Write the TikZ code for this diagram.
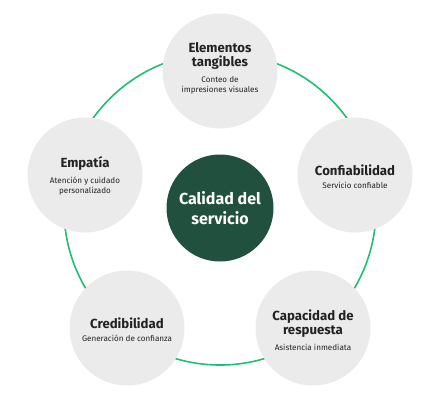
\documentclass[tikz,border=0pt]{standalone}
\usepackage{fontspec}
\setmainfont{Fira Sans}
\usepackage{xcolor}
\usepackage{tikz}
\usetikzlibrary{positioning}
\definecolor{hubgreen}{HTML}{22503E}
\definecolor{ringgreen}{HTML}{1DBF73}
\definecolor{petalgray}{HTML}{EBEBEB}
\definecolor{ink}{HTML}{222222}

\begin{document}
\begin{tikzpicture}[x=1pt,y=-1pt,
  petal/.style={circle,fill=petalgray,minimum size=115pt,inner sep=0pt},
  hub/.style={circle,fill=hubgreen,minimum size=107pt,inner sep=0pt,
    align=center,text=white,font=\bfseries\fontsize{16}{19.5}\selectfont},
  head/.style={align=center,text=ink,inner sep=0pt,
    font=\bfseries\fontsize{13.2}{13.5}\selectfont},
  sub/.style={align=center,text=ink,inner sep=0pt,
    font=\fontsize{8.1}{10}\selectfont}]
  \useasboundingbox (0,0) rectangle (441,400);
  \coordinate (mid) at (220,209);
  \draw[ringgreen,line width=1.6pt] (mid) circle (156pt);
  \node[hub] (calidad) at (220,208) {Calidad del\\servicio};
  \foreach \nm/\px/\py/\ty/\ttl/\txt in {
    tangibles/220/71/56/{Elementos\\tangibles}/{Conteo de\\impresiones visuales},
    empatia/85/175/163/{Empatía}/{Atención y cuidado\\personalizado},
    fiable/355/175/170/{Confiabilidad}/{Servicio confiable},
    credible/127/328/323/{Credibilidad}/{Generación de confianza},
    respuesta/313/328/323.5/{Capacidad de\\respuesta}/{Asistencia inmediata}} {
    \node[petal] (\nm) at (\px,\py) {};
    \node[head] (\nm-t) at (\px,\ty) {\ttl};
    \node[sub,below=6.5pt of \nm-t] (\nm-s) {\txt};
  }
\end{tikzpicture}
\end{document}
